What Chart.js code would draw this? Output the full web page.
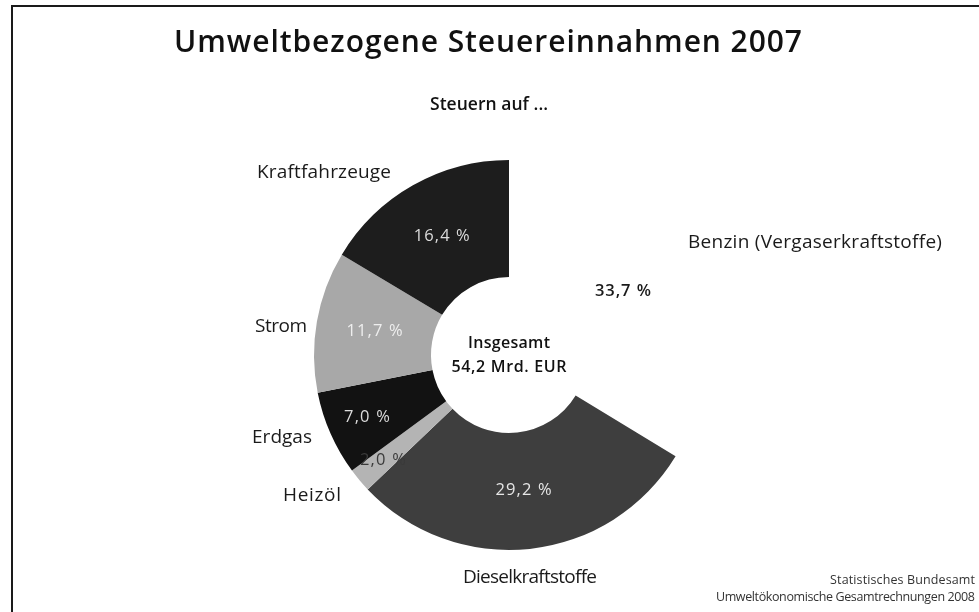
<!DOCTYPE html>
<html lang="de">
<head>
<meta charset="utf-8">
<title>Umweltbezogene Steuereinnahmen 2007</title>
<script src="https://cdn.jsdelivr.net/npm/chart.js@4/dist/chart.umd.min.js"></script>
<style>
  html, body { margin: 0; padding: 0; background: #ffffff; }
  #wrap { position: relative; width: 979px; height: 612px; }
  canvas { display: block; }
</style>
</head>
<body>
<div id="wrap"><canvas id="c" width="979" height="612"></canvas></div>
<script>
// Steuerarten (Reihenfolge im Uhrzeigersinn ab 12 Uhr)
const categories = ['Benzin (Vergaserkraftstoffe)', 'Dieselkraftstoffe', 'Heizöl', 'Erdgas', 'Strom', 'Kraftfahrzeuge'];
// Anteile an den umweltbezogenen Steuereinnahmen in %
const shares = [33.7, 29.2, 2.0, 7.0, 11.7, 16.4];
// Segmentfarben
const colors = ['#ffffff', '#3e3e3e', '#b4b4b4', '#121212', '#a8a8a8', '#1d1d1d'];
// Farben der Prozentangaben im Ring
const valueColors = ['#1a1a1a', '#e6e6e6', '#3a3a3a', '#dcdcdc', '#eeeeee', '#dcdcdc'];
const totalLabel = ['Insgesamt', '54,2 Mrd. EUR'];
const title = 'Umweltbezogene Steuereinnahmen 2007';
const subtitle = 'Steuern auf ...';
const sourceLines = ['Statistisches Bundesamt', 'Umweltökonomische Gesamtrechnungen 2008'];

const FONT = '"Open Sans", "DejaVu Sans", sans-serif';

function fmt(v) {
  return v.toFixed(1).replace('.', ',') + ' %';
}

// Text zeichnen; optional mit leichter Laufweite auf eine Zielbreite gebracht
function txt(ctx, s, x, y, size, weight, color, align, width) {
  ctx.save();
  ctx.font = weight + ' ' + size + 'px ' + FONT;
  ctx.fillStyle = color;
  ctx.textAlign = align || 'center';
  ctx.textBaseline = 'middle';
  if (width) {
    const w = ctx.measureText(s).width;
    const sp = Math.max(-0.8, Math.min(1.2, (width - w) / Math.max(1, s.length - 1)));
    ctx.letterSpacing = sp.toFixed(2) + 'px';
    // trailing spacing after the last glyph is compensated here
    if (ctx.textAlign === 'center') x += sp / 2;
    else if (ctx.textAlign === 'right') x += sp;
  }
  ctx.fillText(s, x, y);
  ctx.restore();
}

// Kategorienamen außerhalb des Rings: [Index, x, y, Ausrichtung, Breite]
const outerLabelPos = [
  [0, 688, 243, 'left', 254],
  [1, 530, 578, 'center', 134],
  [2, 312, 496, 'center', 58],
  [3, 282, 438, 'center', 60],
  [4, 281, 327, 'center', 52],
  [5, 324, 173, 'center', 134]
];
// relative Radialposition der Prozentwerte im Ring
const valueRadius = [0.45, 0.5, 0.74, 0.66, 0.5, 0.5];

const textPlugin = {
  id: 'texts',
  afterDraw(chart) {
    const ctx = chart.ctx;
    // Rahmen
    ctx.save();
    ctx.strokeStyle = '#1a1a1a';
    ctx.lineWidth = 2;
    ctx.beginPath();
    ctx.moveTo(12, 612);
    ctx.lineTo(12, 6);
    ctx.lineTo(979, 6);
    ctx.stroke();
    ctx.restore();

    txt(ctx, title, 488, 43, 30, '600', '#111', 'center', 628);
    txt(ctx, subtitle, 489, 105, 17.5, '600', '#111', 'center', 118);

    const meta = chart.getDatasetMeta(0);
    meta.data.forEach((arc, i) => {
      const p = arc.getProps(['x', 'y', 'startAngle', 'endAngle', 'innerRadius', 'outerRadius'], true);
      const a = (p.startAngle + p.endAngle) / 2;
      const r = p.innerRadius + (p.outerRadius - p.innerRadius) * valueRadius[i];
      txt(ctx, fmt(shares[i]), p.x + Math.cos(a) * r, p.y + Math.sin(a) * r, 16.5, i === 0 ? '600' : '400', valueColors[i], 'center', 56);
    });

    outerLabelPos.forEach(([i, x, y, al, w]) => {
      txt(ctx, categories[i], x, y, 19, '400', '#1a1a1a', al, w);
    });

    const c = meta.data[0];
    txt(ctx, totalLabel[0], c.x, c.y - 12, 16, '600', '#111', 'center', 82);
    txt(ctx, totalLabel[1], c.x, c.y + 12, 16, '600', '#111', 'center', 115);

    txt(ctx, sourceLines[0], 975, 580, 12.5, '400', '#333', 'right', 145);
    txt(ctx, sourceLines[1], 975, 597, 12.5, '400', '#333', 'right', 259);
  }
};

new Chart(document.getElementById('c'), {
  type: 'doughnut',
  data: {
    labels: categories,
    datasets: [{
      data: shares,
      backgroundColor: colors,
      borderWidth: 0,
      hoverOffset: 0
    }]
  },
  options: {
    responsive: false,
    animation: false,
    cutout: '40%',
    rotation: 0,
    layout: { padding: { left: 314, right: 275, top: 160, bottom: 62 } },
    plugins: {
      legend: { display: false },
      tooltip: { enabled: false },
      title: { display: false }
    }
  },
  plugins: [textPlugin]
});
</script>
</body>
</html>
